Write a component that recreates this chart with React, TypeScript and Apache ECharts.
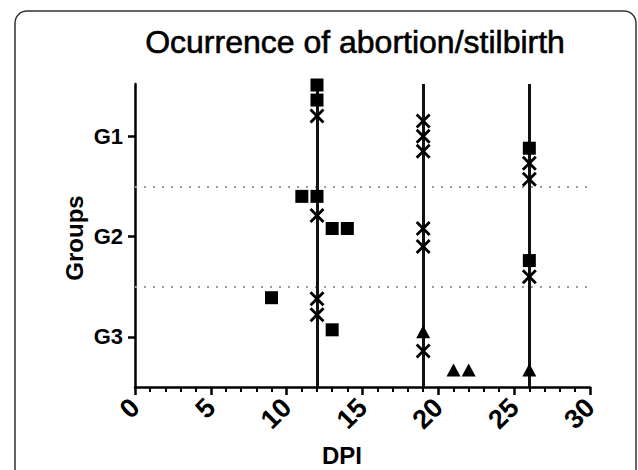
import React, { useEffect, useRef } from "react";
import * as echarts from "echarts";

const title = "Ocurrence of abortion/stilbirth";
const groupLabels = ["G1", "G2", "G3"];
const groupTicks = [1, 2, 3];
const separators = [1.5, 2.5];
const eventDays = [12, 19, 26];

const squareX = [12, 12, 11, 12, 13, 14, 26, 26, 9, 13];
const squareY = [0.49, 0.64, 1.6, 1.6, 1.92, 1.92, 1.12, 2.24, 2.61, 2.93];

const crossX = [12, 19, 19, 19, 26, 26, 12, 19, 19, 26, 12, 12, 19];
const crossY = [0.8, 0.85, 1.0, 1.15, 1.27, 1.43, 1.79, 1.92, 2.1, 2.4, 2.62, 2.78, 3.14];

const triX = [19, 21, 22, 26];
const triY = [2.95, 3.33, 3.33, 3.33];

const crossPath =
  "path://M0,1.6L1.6,0L6,4.4L10.4,0L12,1.6L7.6,6L12,10.4L10.4,12L6,7.6L1.6,12L0,10.4L4.4,6Z";

const zip = (xs: number[], ys: number[]) => xs.map((x, i) => [x, ys[i]]);

export default function App() {
  const ref = useRef<HTMLDivElement>(null);
  useEffect(() => {
    if (!ref.current) return;
    const chart = echarts.init(ref.current, null, { renderer: "svg" });
    const font = "Liberation Sans";
    chart.setOption({
      animation: false,
      backgroundColor: "#fff",
      grid: { left: 135, right: 48, top: 84, bottom: 83 },
      xAxis: {
        type: "value",
        min: 0,
        max: 30,
        interval: 5,
        axisLine: { show: true, lineStyle: { color: "#000", width: 2.5 } },
        axisTick: { show: true, length: 8, lineStyle: { color: "#000", width: 2.5 } },
        minorTick: { show: true, splitNumber: 5, length: 5, lineStyle: { color: "#000", width: 2 } },
        splitLine: { show: false },
        minorSplitLine: { show: false },
        axisLabel: {
          show: true,
          rotate: 45,
          margin: 16,
          fontFamily: font,
          fontWeight: "bold",
          fontSize: 27,
          color: "#000",
        },
      },
      yAxis: {
        type: "value",
        inverse: true,
        min: 0.48,
        max: 3.5,
        axisLine: { show: true, lineStyle: { color: "#000", width: 2.5 } },
        axisTick: { show: true, customValues: groupTicks, length: 7, lineStyle: { color: "#000", width: 2.5 } },
        splitLine: { show: false },
        axisLabel: {
          show: true,
          customValues: groupTicks,
          formatter: (v: number) => groupLabels[Math.round(v) - 1] ?? "",
          fontFamily: font,
          fontWeight: "bold",
          fontSize: 22,
          color: "#000",
          margin: 12,
        },
      },
      graphic: [
        {
          type: "rect",
          shape: { x: 15, y: 11, width: 621, height: 520, r: 12 },
          style: { fill: "none", stroke: "#333", lineWidth: 1.5 },
          silent: true,
        },
        {
          type: "text",
          x: 355,
          y: 42,
          style: {
            text: title,
            fontFamily: font,
            fontSize: 32,
            fontWeight: "normal",
            fill: "#000",
            stroke: "#000",
            lineWidth: 0.6,
            textAlign: "center",
            textVerticalAlign: "middle",
          },
        },
        {
          type: "text",
          x: 74,
          y: 238,
          rotation: Math.PI / 2,
          style: {
            text: "Groups",
            fontFamily: font,
            fontSize: 24,
            fontWeight: "bold",
            fill: "#000",
            textAlign: "center",
            textVerticalAlign: "middle",
          },
        },
        {
          type: "text",
          x: 342,
          y: 455,
          style: {
            text: "DPI",
            fontFamily: font,
            fontSize: 24,
            fontWeight: "bold",
            fill: "#000",
            textAlign: "center",
            textVerticalAlign: "middle",
          },
        },
      ],
      series: [
        {
          type: "scatter",
          data: [],
          z: 1,
          markLine: {
            silent: true,
            symbol: "none",
            label: { show: false },
            lineStyle: { color: "#999", width: 2, type: [2, 7] },
            data: separators.map((v) => ({ yAxis: v })),
          },
        },
        {
          type: "scatter",
          data: [],
          z: 2,
          markLine: {
            silent: true,
            symbol: "none",
            label: { show: false },
            lineStyle: { color: "#111", width: 3, type: "solid" },
            data: eventDays.map((v) => ({ xAxis: v })),
          },
        },
        {
          type: "scatter",
          name: "square",
          symbol: "rect",
          symbolSize: 13,
          itemStyle: { color: "#000", opacity: 1 },
          data: zip(squareX, squareY),
          z: 5,
        },
        {
          type: "scatter",
          name: "cross",
          symbol: crossPath,
          symbolSize: 15,
          itemStyle: { color: "#000", opacity: 1 },
          data: zip(crossX, crossY),
          z: 5,
        },
        {
          type: "scatter",
          name: "triangle",
          symbol: "triangle",
          symbolSize: [14, 13],
          itemStyle: { color: "#000", opacity: 1 },
          data: zip(triX, triY),
          z: 5,
        },
      ],
    });
    return () => chart.dispose();
  }, []);
  return (
    <div
      ref={ref}
      style={{ position: "fixed", left: 0, top: 0, width: 638, height: 470, background: "#fff" }}
    />
  );
}
